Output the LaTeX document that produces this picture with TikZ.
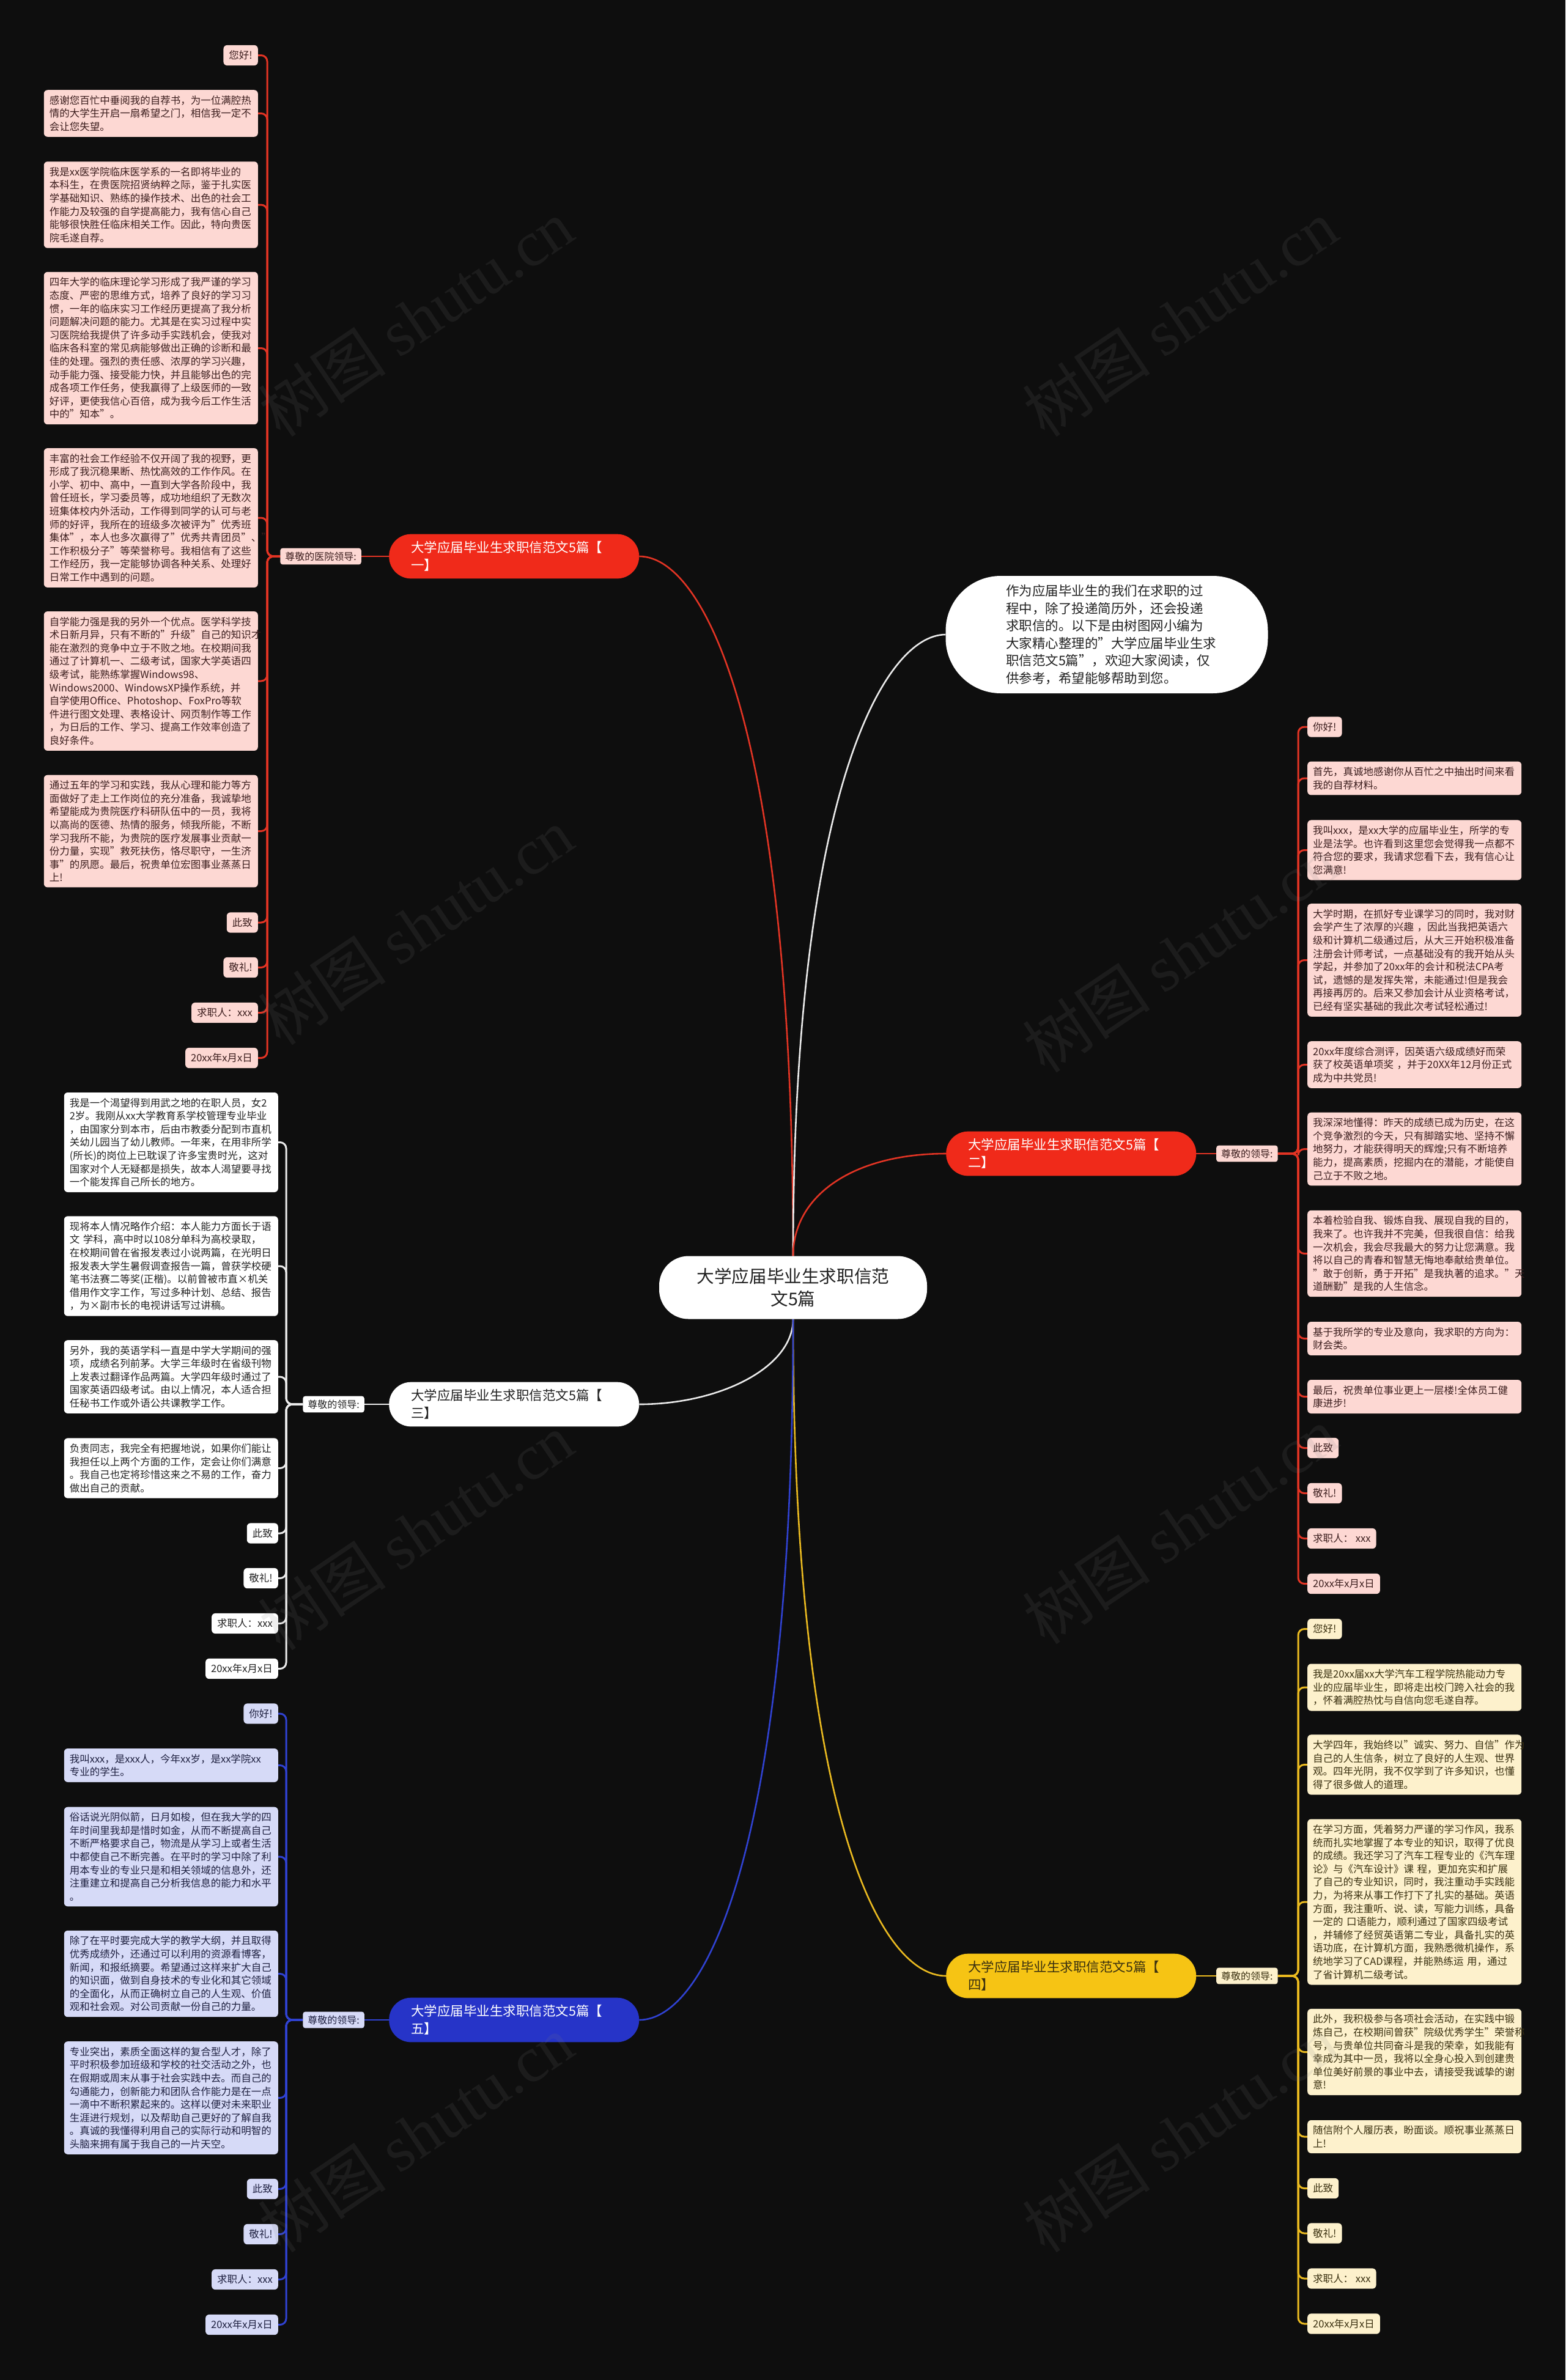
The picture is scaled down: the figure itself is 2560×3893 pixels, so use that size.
\documentclass[tikz,border=0pt]{standalone}
\usepackage{fontspec}
\setmainfont{Noto Sans CJK SC}
\newfontfamily\wmserif{Liberation Serif}
\definecolor{bgc}{RGB}{14,14,14}
\definecolor{redPill}{RGB}{240,42,26}
\definecolor{redLeaf}{RGB}{253,216,211}
\definecolor{redLine}{RGB}{226,52,36}
\definecolor{redTxt}{RGB}{60,30,30}
\definecolor{bluePill}{RGB}{38,52,200}
\definecolor{blueLeaf}{RGB}{214,218,247}
\definecolor{blueLine}{RGB}{48,66,210}
\definecolor{blueTxt}{RGB}{30,32,64}
\definecolor{yelPill}{RGB}{246,196,20}
\definecolor{yelLeaf}{RGB}{253,241,204}
\definecolor{yelLine}{RGB}{234,186,32}
\definecolor{yelTxt}{RGB}{58,48,16}
\definecolor{whiteLine}{RGB}{235,235,235}
\definecolor{darkTxt}{RGB}{34,34,34}
\pgfdeclarelayer{back}
\pgfdeclarelayer{lines}
\pgfdeclarelayer{wm}
\pgfsetlayers{back,lines,main,wm}
\tikzset{
  leaf/.style={inner xsep=9pt, inner ysep=9pt, rounded corners=6pt, align=left, font=\fontsize{16.5}{21.6}\selectfont},
  wide/.style={text width=332pt},
  lR/.style={leaf, fill=redLeaf, text=redTxt},
  lW/.style={leaf, fill=white, text=darkTxt},
  lB/.style={leaf, fill=blueLeaf, text=blueTxt},
  lY/.style={leaf, fill=yelLeaf, text=yelTxt},
  lab/.style={inner xsep=8pt, inner ysep=6pt, rounded corners=4pt, font=\fontsize{16}{20}\selectfont},
  pill/.style={inner xsep=36pt, inner ysep=12pt, rounded corners=36pt, text width=337pt, align=left, font=\fontsize{21.5}{28.6}\selectfont},
  busline/.style={line width=3pt, rounded corners=10pt},
  mainline/.style={line width=2.6pt},
  wmark/.style={rotate=34, text=gray, opacity=0.13, font=\fontsize{105}{105}\selectfont},
}
\begin{document}
\begin{tikzpicture}[x=1pt,y=-1pt]
\begin{pgfonlayer}{back}
\fill[bgc] (0,0) rectangle (2560,3893);
\end{pgfonlayer}
\useasboundingbox (0,0) rectangle (2560,3893);

% centre and intro
\node[fill=white, text=darkTxt, rounded corners=48pt, minimum width=438pt, minimum height=103pt, align=center, font=\fontsize{28.6}{36.6}\selectfont] (ctr) at (1297,2106) {大学应届毕业生求职信范\\文5篇};
\node[fill=white, text=darkTxt, rounded corners=90pt, minimum width=527pt, minimum height=192pt, text width=330pt, align=left, font=\fontsize{21.5}{28.6}\selectfont] (intro) at (1810,1038) {作为应届毕业生的我们在求职的过\\程中，除了投递简历外，还会投递\\求职信的。以下是由树图网小编为\\大家精心整理的"大学应届毕业生求\\职信范文5篇"，欢迎大家阅读，仅\\供参考，希望能够帮助到您。};

% branch pills
\node[pill, fill=redPill, text=white, anchor=west] (p1) at (636,910) {大学应届毕业生求职信范文5篇【\\一】};
\node[pill, fill=redPill, text=white, anchor=west] (p2) at (1547,1887) {大学应届毕业生求职信范文5篇【\\二】};
\node[pill, fill=white, text=darkTxt, anchor=west] (p3) at (636,2297) {大学应届毕业生求职信范文5篇【\\三】};
\node[pill, fill=yelPill, text=yelTxt, anchor=west] (p4) at (1547,3232) {大学应届毕业生求职信范文5篇【\\四】};
\node[pill, fill=bluePill, text=white, anchor=west] (p5) at (636,3304) {大学应届毕业生求职信范文5篇【\\五】};

% labels
\node[lab, fill=redLeaf, text=redTxt, anchor=east] (la) at (591,910) {尊敬的医院领导:};
\node[lab, fill=redLeaf, text=redTxt, anchor=west] (lb) at (1989,1887) {尊敬的领导:};
\node[lab, fill=white, text=darkTxt, anchor=east] (lc) at (596,2297) {尊敬的领导:};
\node[lab, fill=yelLeaf, text=yelTxt, anchor=west] (ld) at (1989,3232) {尊敬的领导:};
\node[lab, fill=blueLeaf, text=blueTxt, anchor=east] (le) at (596,3304) {尊敬的领导:};

\coordinate (busA) at (437,910);
\coordinate (busB) at (2123,1887);
\coordinate (busC) at (468,2297);
\coordinate (busD) at (2123,3232);
\coordinate (busE) at (468,3304);

% branch 1 leaves
\node[lR, anchor=east] (a1) at (422,90.5) {您好!};
\node[lR, wide, anchor=east] (a2) at (422,185.5) {感谢您百忙中垂阅我的自荐书，为一位满腔热\\情的大学生开启一扇希望之门，相信我一定不\\会让您失望。};
\node[lR, wide, anchor=east] (a3) at (422,335) {我是xx医学院临床医学系的一名即将毕业的\\本科生，在贵医院招贤纳粹之际，鉴于扎实医\\学基础知识、熟练的操作技术、出色的社会工\\作能力及较强的自学提高能力，我有信心自己\\能够很快胜任临床相关工作。因此，特向贵医\\院毛遂自荐。};
\node[lR, wide, anchor=east] (a4) at (422,569.5) {四年大学的临床理论学习形成了我严谨的学习\\态度、严密的思维方式，培养了良好的学习习\\惯，一年的临床实习工作经历更提高了我分析\\问题解决问题的能力。尤其是在实习过程中实\\习医院给我提供了许多动手实践机会，使我对\\临床各科室的常见病能够做出正确的诊断和最\\佳的处理。强烈的责任感、浓厚的学习兴趣，\\动手能力强、接受能力快，并且能够出色的完\\成各项工作任务，使我赢得了上级医师的一致\\好评，更使我信心百倍，成为我今后工作生活\\中的"知本"。};
\node[lR, wide, anchor=east] (a5) at (422,847) {丰富的社会工作经验不仅开阔了我的视野，更\\形成了我沉稳果断、热忱高效的工作作风。在\\小学、初中、高中，一直到大学各阶段中，我\\曾任班长，学习委员等，成功地组织了无数次\\班集体校内外活动，工作得到同学的认可与老\\师的好评，我所在的班级多次被评为"优秀班\\集体"，本人也多次赢得了"优秀共青团员"、"\\工作积极分子"等荣誉称号。我相信有了这些\\工作经历，我一定能够协调各种关系、处理好\\日常工作中遇到的问题。};
\node[lR, wide, anchor=east] (a6) at (422,1114) {自学能力强是我的另外一个优点。医学科学技\\术日新月异，只有不断的"升级"自己的知识才\\能在激烈的竞争中立于不败之地。在校期间我\\通过了计算机一、二级考试，国家大学英语四\\级考试，能熟练掌握Windows98、\\Windows2000、WindowsXP操作系统，并\\自学使用Office、Photoshop、FoxPro等软\\件进行图文处理、表格设计、网页制作等工作\\，为日后的工作、学习、提高工作效率创造了\\良好条件。};
\node[lR, wide, anchor=east] (a7) at (422,1359.5) {通过五年的学习和实践，我从心理和能力等方\\面做好了走上工作岗位的充分准备，我诚挚地\\希望能成为贵院医疗科研队伍中的一员，我将\\以高尚的医德、热情的服务，倾我所能，不断\\学习我所不能，为贵院的医疗发展事业贡献一\\份力量，实现"救死扶伤，恪尽职守，一生济\\事"的夙愿。最后，祝贵单位宏图事业蒸蒸日\\上!};
\node[lR, anchor=east] (a8) at (422,1509) {此致};
\node[lR, anchor=east] (a9) at (422,1582.5) {敬礼!};
\node[lR, anchor=east] (a10) at (422,1656.5) {求职人：xxx};
\node[lR, anchor=east] (a11) at (422,1730.5) {20xx年x月x日};

% branch 2 leaves
\node[lR, anchor=west] (b1) at (2138,1189) {你好!};
\node[lR, wide, anchor=west] (b2) at (2138,1273) {首先，真诚地感谢你从百忙之中抽出时间来看\\我的自荐材料。};
\node[lR, wide, anchor=west] (b3) at (2138,1390.5) {我叫xxx，是xx大学的应届毕业生，所学的专\\业是法学。也许看到这里您会觉得我一点都不\\符合您的要求，我请求您看下去，我有信心让\\您满意!};
\node[lR, wide, anchor=west] (b4) at (2138,1570.5) {大学时期，在抓好专业课学习的同时，我对财\\会学产生了浓厚的兴趣 ，因此当我把英语六\\级和计算机二级通过后，从大三开始积极准备\\注册会计师考试，一点基础没有的我开始从头\\学起，并参加了20xx年的会计和税法CPA考\\试，遗憾的是发挥失常，未能通过!但是我会\\再接再厉的。后来又参加会计从业资格考试，\\已经有坚实基础的我此次考试轻松通过!};
\node[lR, wide, anchor=west] (b5) at (2138,1741.5) {20xx年度综合测评，因英语六级成绩好而荣\\获了校英语单项奖 ，并于20XX年12月份正式\\成为中共党员!};
\node[lR, wide, anchor=west] (b6) at (2138,1879.5) {我深深地懂得：昨天的成绩已成为历史，在这\\个竞争激烈的今天，只有脚踏实地、坚持不懈\\地努力，才能获得明天的辉煌;只有不断培养\\能力，提高素质，挖掘内在的潜能，才能使自\\己立于不败之地。};
\node[lR, wide, anchor=west] (b7) at (2138,2050.5) {本着检验自我、锻炼自我、展现自我的目的，\\我来了。也许我并不完美，但我很自信：给我\\一次机会，我会尽我最大的努力让您满意。我\\将以自己的青春和智慧无悔地奉献给贵单位。\\"敢于创新，勇于开拓"是我执著的追求。"天\\道酬勤"是我的人生信念。};
\node[lR, wide, anchor=west] (b8) at (2138,2189.5) {基于我所学的专业及意向，我求职的方向为：\\财会类。};
\node[lR, wide, anchor=west] (b9) at (2138,2284.5) {最后，祝贵单位事业更上一层楼!全体员工健\\康进步!};
\node[lR, anchor=west] (b10) at (2138,2368.5) {此致};
\node[lR, anchor=west] (b11) at (2138,2442.5) {敬礼!};
\node[lR, anchor=west] (b12) at (2138,2516.5) {求职人： xxx};
\node[lR, anchor=west] (b13) at (2138,2590.5) {20xx年x月x日};

% branch 3 leaves
\node[lW, wide, anchor=east] (c1) at (455,1868.5) {我是一个渴望得到用武之地的在职人员，女2\\2岁。我刚从xx大学教育系学校管理专业毕业\\，由国家分到本市，后由市教委分配到市直机\\关幼儿园当了幼儿教师。一年来，在用非所学\\(所长)的岗位上已耽误了许多宝贵时光，这对\\国家对个人无疑都是损失，故本人渴望要寻找\\一个能发挥自己所长的地方。};
\node[lW, wide, anchor=east] (c2) at (455,2071) {现将本人情况略作介绍：本人能力方面长于语\\文 学科，高中时以108分单科为高校录取，\\在校期间曾在省报发表过小说两篇，在光明日\\报发表大学生暑假调查报告一篇，曾获学校硬\\笔书法赛二等奖(正楷)。以前曾被市直×机关\\借用作文字工作，写过多种计划、总结、报告\\，为×副市长的电视讲话写过讲稿。};
\node[lW, wide, anchor=east] (c3) at (455,2252) {另外，我的英语学科一直是中学大学期间的强\\项，成绩名列前茅。大学三年级时在省级刊物\\上发表过翻译作品两篇。大学四年级时通过了\\国家英语四级考试。由以上情况，本人适合担\\任秘书工作或外语公共课教学工作。};
\node[lW, wide, anchor=east] (c4) at (455,2401.5) {负责同志，我完全有把握地说，如果你们能让\\我担任以上两个方面的工作，定会让你们满意\\。我自己也定将珍惜这来之不易的工作，奋力\\做出自己的贡献。};
\node[lW, anchor=east] (c5) at (455,2508) {此致};
\node[lW, anchor=east] (c6) at (455,2581.5) {敬礼!};
\node[lW, anchor=east] (c7) at (455,2655.5) {求职人：xxx};
\node[lW, anchor=east] (c8) at (455,2729.5) {20xx年x月x日};

% branch 4 leaves
\node[lY, anchor=west] (d1) at (2138,2664.5) {您好!};
\node[lY, wide, anchor=west] (d2) at (2138,2760) {我是20xx届xx大学汽车工程学院热能动力专\\业的应届毕业生，即将走出校门跨入社会的我\\，怀着满腔热忱与自信向您毛遂自荐。};
\node[lY, wide, anchor=west] (d3) at (2138,2886.5) {大学四年，我始终以"诚实、努力、自信"作为\\自己的人生信条，树立了良好的人生观、世界\\观。四年光阴，我不仅学到了许多知识，也懂\\得了很多做人的道理。};
\node[lY, wide, anchor=west] (d4) at (2138,3111) {在学习方面，凭着努力严谨的学习作风，我系\\统而扎实地掌握了本专业的知识，取得了优良\\的成绩。我还学习了汽车工程专业的《汽车理\\论》与《汽车设计》课 程，更加充实和扩展\\了自己的专业知识，同时，我注重动手实践能\\力，为将来从事工作打下了扎实的基础。英语\\方面，我注重听、说、读，写能力训练，具备\\一定的 口语能力，顺利通过了国家四级考试\\，并辅修了经贸英语第二专业，具备扎实的英\\语功底，在计算机方面，我熟悉微机操作，系\\统地学习了CAD课程，并能熟练运 用，通过\\了省计算机二级考试。};
\node[lY, wide, anchor=west] (d5) at (2138,3356.5) {此外，我积极参与各项社会活动，在实践中锻\\炼自己，在校期间曾获"院级优秀学生"荣誉称\\号，与贵单位共同奋斗是我的荣幸，如我能有\\幸成为其中一员，我将以全身心投入到创建贵\\单位美好前景的事业中去，请接受我诚挚的谢\\意!};
\node[lY, wide, anchor=west] (d6) at (2138,3495) {随信附个人履历表，盼面谈。顺祝事业蒸蒸日\\上!};
\node[lY, anchor=west] (d7) at (2138,3579.5) {此致};
\node[lY, anchor=west] (d8) at (2138,3653) {敬礼!};
\node[lY, anchor=west] (d9) at (2138,3727) {求职人： xxx};
\node[lY, anchor=west] (d10) at (2138,3801) {20xx年x月x日};

% branch 5 leaves
\node[lB, anchor=east] (e1) at (455,2803) {你好!};
\node[lB, wide, anchor=east] (e2) at (455,2887.5) {我叫xxx，是xxx人，今年xx岁，是xx学院xx\\专业的学生。};
\node[lB, wide, anchor=east] (e3) at (455,3037) {俗话说光阴似箭，日月如梭，但在我大学的四\\年时间里我却是惜时如金，从而不断提高自己\\不断严格要求自己，物流是从学习上或者生活\\中都使自己不断完善。在平时的学习中除了利\\用本专业的专业只是和相关领域的信息外，还\\注重建立和提高自己分析我信息的能力和水平\\。};
\node[lB, wide, anchor=east] (e4) at (455,3228.5) {除了在平时要完成大学的教学大纲，并且取得\\优秀成绩外，还通过可以利用的资源看博客，\\新闻，和报纸摘要。希望通过这样来扩大自己\\的知识面，做到自身技术的专业化和其它领域\\的全面化，从而正确树立自己的人生观、价值\\观和社会观。对公司贡献一份自己的力量。};
\node[lB, wide, anchor=east] (e5) at (455,3431.5) {专业突出，素质全面这样的复合型人才，除了\\平时积极参加班级和学校的社交活动之外，也\\在假期或周末从事于社会实践中去。而自己的\\勾通能力，创新能力和团队合作能力是在一点\\一滴中不断积累起来的。这样以便对未来职业\\生涯进行规划，以及帮助自己更好的了解自我\\。真诚的我懂得利用自己的实际行动和明智的\\头脑来拥有属于我自己的一片天空。};
\node[lB, anchor=east] (e6) at (455,3580.5) {此致};
\node[lB, anchor=east] (e7) at (455,3654.5) {敬礼!};
\node[lB, anchor=east] (e8) at (455,3728.5) {求职人：xxx};
\node[lB, anchor=east] (e9) at (455,3802.5) {20xx年x月x日};

\begin{pgfonlayer}{lines}
% main curves
\draw[mainline, redLine] (p1.east) .. controls +(107,0) and +(0,-860) .. (ctr.north);
\draw[mainline, whiteLine] (intro.west) .. controls +(-100,0) and +(0,-760) .. (ctr.north);
\draw[mainline, redLine] (p2.west) .. controls +(-150,0) and +(0,-100) .. (ctr.north);
\draw[mainline, whiteLine] (ctr.south) .. controls +(0,80) and +(130,0) .. (p3.east);
\draw[mainline, yelLine] (ctr.south) .. controls +(0,800) and +(-110,0) .. (p4.west);
\draw[mainline, blueLine] (ctr.south) .. controls +(0,860) and +(110,0) .. (p5.east);
% pill to label
\draw[mainline, redLine] (p1.west) -- (la.east);
\draw[mainline, redLine] (p2.east) -- (lb.west);
\draw[mainline, whiteLine] (p3.west) -- (lc.east);
\draw[mainline, yelLine] (p4.east) -- (ld.west);
\draw[mainline, blueLine] (p5.west) -- (le.east);
% buses
\foreach \i in {1,...,11} \draw[busline, redLine] (la.west) -- (busA) |- (a\i.east);
\foreach \i in {1,...,13} \draw[busline, redLine] (lb.east) -- (busB) |- (b\i.west);
\foreach \i in {1,...,8} \draw[busline, whiteLine] (lc.west) -- (busC) |- (c\i.east);
\foreach \i in {1,...,10} \draw[busline, yelLine] (ld.east) -- (busD) |- (d\i.west);
\foreach \i in {1,...,9} \draw[busline, blueLine] (le.west) -- (busE) |- (e\i.east);
\end{pgfonlayer}

\begin{pgfonlayer}{wm}
\node[wmark] (w1) at (680,520) {树图 {\wmserif shutu.cn}};
\node[wmark] (w2) at (1930,520) {树图 {\wmserif shutu.cn}};
\node[wmark] (w3) at (680,1515) {树图 {\wmserif shutu.cn}};
\node[wmark] (w4) at (1930,1560) {树图 {\wmserif shutu.cn}};
\node[wmark] (w5) at (680,2505) {树图 {\wmserif shutu.cn}};
\node[wmark] (w6) at (1930,2495) {树图 {\wmserif shutu.cn}};
\node[wmark] (w7) at (680,3490) {树图 {\wmserif shutu.cn}};
\node[wmark] (w8) at (1930,3490) {树图 {\wmserif shutu.cn}};
\end{pgfonlayer}
\end{tikzpicture}
\end{document}
